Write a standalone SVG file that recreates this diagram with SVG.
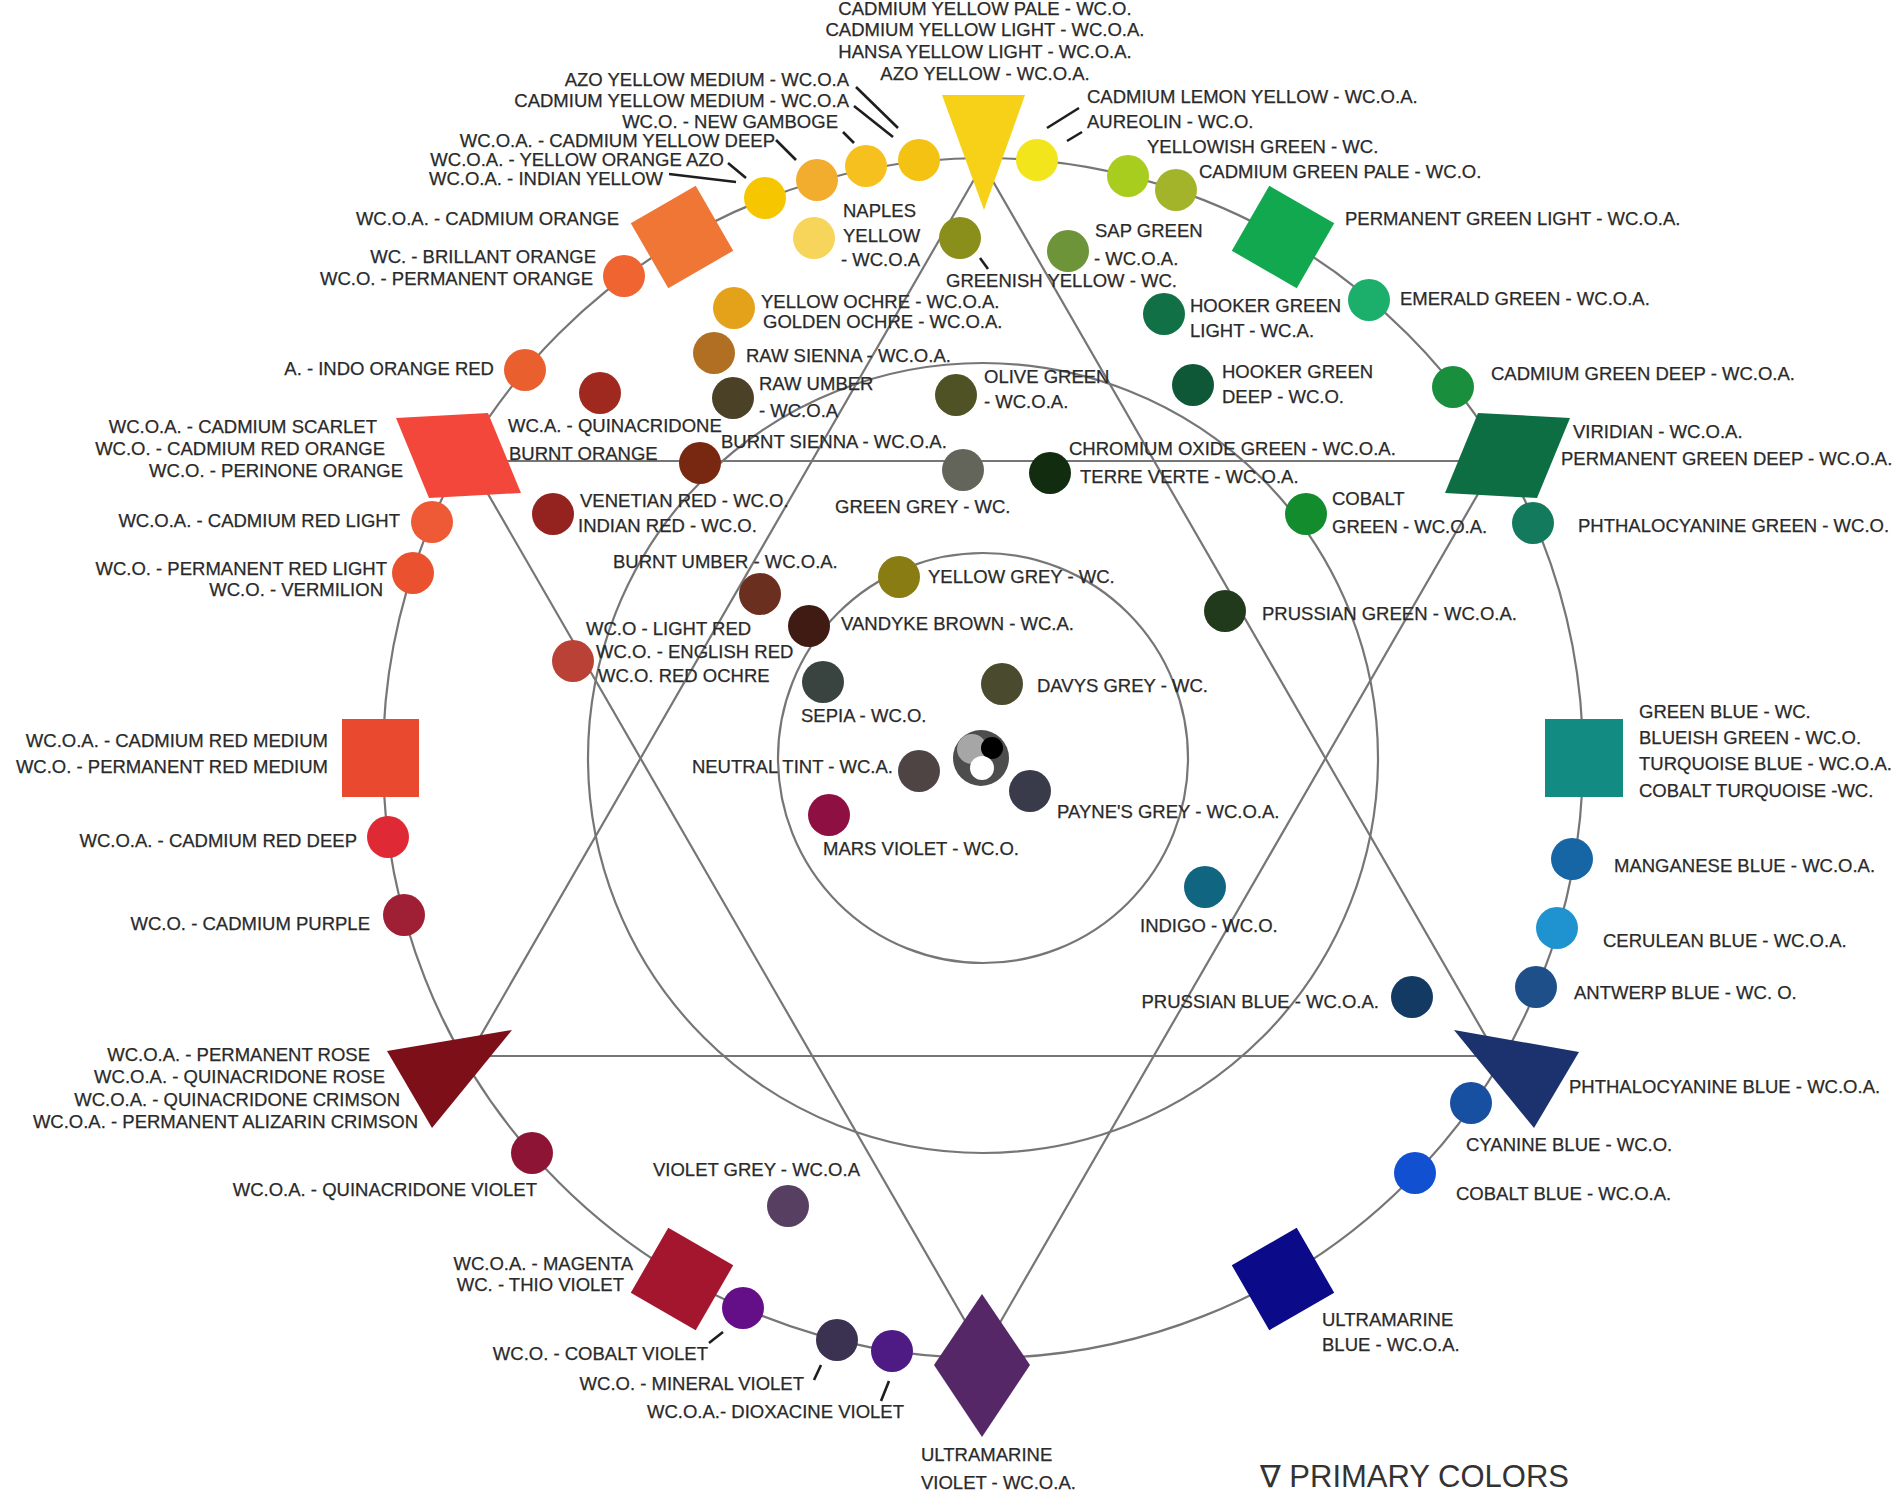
<svg xmlns="http://www.w3.org/2000/svg" width="1902" height="1493" viewBox="0 0 1902 1493">
<style>
text{font-family:"Liberation Sans",Arial,"DejaVu Sans",sans-serif;font-size:18.5px;fill:#2a2a2a;stroke:#2a2a2a;stroke-width:0.25}
.e{text-anchor:end}.m{text-anchor:middle}
.ring{fill:none;stroke:#767676;stroke-width:2.2}
.star{stroke:#767676;stroke-width:2.2;fill:none}
.ldr{stroke:#1e1e1e;stroke-width:2.6}
.big{font-size:31px;fill:#333;stroke:none}
</style>
<rect width="1902" height="1493" fill="#fff"/>
<g id="connectors">
<circle class="ring" cx="983" cy="758" r="600"/>
<circle class="ring" cx="983" cy="758" r="395"/>
<circle class="ring" cx="983" cy="758" r="205"/>
<path class="star" d="M983,164 L469,1056 L1497,1056 Z"/>
<path class="star" d="M469,461 L1497,461 L983,1352 Z"/>
<line class="ldr" x1="856" y1="87" x2="898" y2="128"/>
<line class="ldr" x1="854" y1="106" x2="893" y2="137"/>
<line class="ldr" x1="843" y1="132" x2="854" y2="143"/>
<line class="ldr" x1="776" y1="140" x2="796" y2="160"/>
<line class="ldr" x1="728" y1="163" x2="746" y2="178"/>
<line class="ldr" x1="669" y1="174" x2="736" y2="182"/>
<line class="ldr" x1="1047" y1="128" x2="1079" y2="108"/>
<line class="ldr" x1="1067" y1="141" x2="1082" y2="132"/>
<line class="ldr" x1="980" y1="258" x2="988" y2="269"/>
<line class="ldr" x1="709" y1="1343" x2="723" y2="1332"/>
<line class="ldr" x1="814" y1="1380" x2="821" y2="1365"/>
<line class="ldr" x1="881" y1="1401" x2="889" y2="1381"/>
</g>

<g id="top-yellows">
<text class="m" x="985" y="15">CADMIUM YELLOW PALE - WC.O.</text>
<text class="m" x="985" y="36">CADMIUM YELLOW LIGHT - WC.O.A.</text>
<text class="m" x="985" y="58">HANSA YELLOW LIGHT - WC.O.A.</text>
<text class="m" x="985" y="80">AZO YELLOW - WC.O.A.</text>
</g>
<g id="primary-yellow"><polygon points="942,95 1025,95 984,210" fill="#F7D117"/></g>
<g id="azo-yellow-medium"><circle cx="919" cy="160" r="21" fill="#F4C212"/>
<text class="e" x="849" y="86">AZO YELLOW MEDIUM - WC.O.A</text>
<text class="e" x="849" y="107">CADMIUM YELLOW MEDIUM - WC.O.A</text></g>
<g id="new-gamboge"><circle cx="866" cy="166" r="21" fill="#F6C11E"/>
<text class="e" x="838" y="128">WC.O. - NEW GAMBOGE</text></g>
<g id="cadmium-yellow-deep"><circle cx="817" cy="180" r="21" fill="#F2AD2F"/>
<text class="e" x="775" y="147">WC.O.A. - CADMIUM YELLOW DEEP</text></g>
<g id="indian-yellow"><circle cx="765" cy="198" r="21" fill="#F6C700"/>
<text class="e" x="724" y="166">WC.O.A. - YELLOW ORANGE AZO</text>
<text class="e" x="663" y="185">WC.O.A. - INDIAN YELLOW</text></g>
<g id="cadmium-orange"><rect x="-37.5" y="-37.5" width="75" height="75" fill="#F07636" transform="translate(682,237) rotate(-30)"/>
<text class="e" x="619" y="225">WC.O.A. - CADMIUM ORANGE</text></g>
<g id="brillant-orange"><circle cx="624" cy="276" r="21" fill="#EF6431"/>
<text class="e" x="596" y="263">WC. - BRILLANT ORANGE</text>
<text class="e" x="593" y="285">WC.O. - PERMANENT ORANGE</text></g>
<g id="indo-orange-red"><circle cx="525" cy="370" r="21" fill="#E9602E"/>
<text class="e" x="494" y="375">A. - INDO ORANGE RED</text></g>
<g id="cadmium-scarlet"><polygon points="396,418 488,413 521,493 429,498" fill="#F4473B"/>
<text class="e" x="377" y="433">WC.O.A. - CADMIUM SCARLET</text>
<text class="e" x="385" y="455">WC.O. - CADMIUM RED ORANGE</text>
<text class="e" x="403" y="477">WC.O. - PERINONE ORANGE</text></g>
<g id="cadmium-red-light"><circle cx="432" cy="522" r="21" fill="#EE5A36"/>
<text class="e" x="400" y="527">WC.O.A. - CADMIUM RED LIGHT</text></g>
<g id="permanent-red-light"><circle cx="413" cy="573" r="21" fill="#EA512E"/>
<text class="e" x="387" y="575">WC.O. - PERMANENT RED LIGHT</text>
<text class="e" x="383" y="596">WC.O. - VERMILION</text></g>
<g id="cadmium-red-medium"><rect x="342" y="719" width="77" height="78" fill="#E8492F"/>
<text class="e" x="328" y="747">WC.O.A. - CADMIUM RED MEDIUM</text>
<text class="e" x="328" y="773">WC.O. - PERMANENT RED MEDIUM</text></g>
<g id="cadmium-red-deep"><circle cx="388" cy="837" r="21" fill="#DF2A36"/>
<text class="e" x="357" y="847">WC.O.A. - CADMIUM RED DEEP</text></g>
<g id="cadmium-purple"><circle cx="404" cy="915" r="21" fill="#9F1F34"/>
<text class="e" x="370" y="930">WC.O. - CADMIUM PURPLE</text></g>
<g id="permanent-rose"><polygon points="387,1051 512,1030 432,1128" fill="#7D0F19"/>
<text class="e" x="370" y="1061">WC.O.A. - PERMANENT ROSE</text>
<text class="e" x="385" y="1083">WC.O.A. - QUINACRIDONE ROSE</text>
<text class="e" x="400" y="1106">WC.O.A. - QUINACRIDONE CRIMSON</text>
<text class="e" x="418" y="1128">WC.O.A. - PERMANENT ALIZARIN CRIMSON</text></g>
<g id="quinacridone-violet"><circle cx="532" cy="1153" r="21" fill="#8D1434"/>
<text class="e" x="537" y="1196">WC.O.A. - QUINACRIDONE VIOLET</text></g>
<g id="magenta"><rect x="-37.5" y="-37.5" width="75" height="75" fill="#A4162D" transform="translate(682,1279) rotate(30)"/>
<text class="e" x="633" y="1270">WC.O.A. - MAGENTA</text>
<text class="e" x="624" y="1291">WC. - THIO VIOLET</text></g>
<g id="cobalt-violet"><circle cx="743" cy="1308" r="21" fill="#640E88"/>
<text class="e" x="708" y="1360">WC.O. - COBALT VIOLET</text></g>
<g id="mineral-violet"><circle cx="837" cy="1340" r="21" fill="#3B3251"/>
<text class="e" x="804" y="1390">WC.O. - MINERAL VIOLET</text></g>
<g id="dioxacine-violet"><circle cx="892" cy="1351" r="21" fill="#4E1A84"/>
<text class="e" x="904" y="1418">WC.O.A.- DIOXACINE VIOLET</text></g>
<g id="ultramarine-violet"><polygon points="982,1294 1030,1365 982,1437 934,1365" fill="#552767"/>
<text x="921" y="1461">ULTRAMARINE</text>
<text x="921" y="1489">VIOLET - WC.O.A.</text></g>
<g id="violet-grey"><circle cx="788" cy="1206" r="21" fill="#563F60"/>
<text x="653" y="1176">VIOLET GREY - WC.O.A</text></g>
<g id="ultramarine-blue"><rect x="-37.5" y="-37.5" width="75" height="75" fill="#0B0B8A" transform="translate(1283,1279) rotate(-30)"/>
<text x="1322" y="1326">ULTRAMARINE</text>
<text x="1322" y="1351">BLUE - WC.O.A.</text></g>
<g id="cobalt-blue"><circle cx="1415" cy="1173" r="21" fill="#1250D2"/>
<text x="1456" y="1200">COBALT BLUE - WC.O.A.</text></g>
<g id="cyanine-blue"><circle cx="1471" cy="1103" r="21" fill="#1750A0"/>
<text x="1466" y="1151">CYANINE BLUE - WC.O.</text></g>
<g id="phthalocyanine-blue"><polygon points="1454,1030 1579,1052 1534,1128" fill="#1C326E"/>
<text x="1569" y="1093">PHTHALOCYANINE BLUE - WC.O.A.</text></g>
<g id="antwerp-blue"><circle cx="1536" cy="987" r="21" fill="#1E4F88"/>
<text x="1574" y="999">ANTWERP BLUE - WC. O.</text></g>
<g id="cerulean-blue"><circle cx="1557" cy="928" r="21" fill="#1F93D0"/>
<text x="1603" y="947">CERULEAN BLUE - WC.O.A.</text></g>
<g id="manganese-blue"><circle cx="1572" cy="859" r="21" fill="#1666A6"/>
<text x="1614" y="872">MANGANESE BLUE - WC.O.A.</text></g>
<g id="green-blue"><rect x="1545" y="719" width="78" height="78" fill="#128C82"/>
<text x="1639" y="718">GREEN BLUE - WC.</text>
<text x="1639" y="744">BLUEISH GREEN - WC.O.</text>
<text x="1639" y="770">TURQUOISE BLUE - WC.O.A.</text>
<text x="1639" y="797">COBALT TURQUOISE -WC.</text></g>
<g id="phthalocyanine-green"><circle cx="1533" cy="523" r="21" fill="#137A5E"/>
<text x="1578" y="532">PHTHALOCYANINE GREEN - WC.O.</text></g>
<g id="viridian"><polygon points="1478,413 1570,418 1537,498 1445,493" fill="#0E6E43"/>
<text x="1573" y="438">VIRIDIAN - WC.O.A.</text>
<text x="1561" y="465">PERMANENT GREEN DEEP - WC.O.A.</text></g>
<g id="cadmium-green-deep"><circle cx="1453" cy="387" r="21" fill="#198F3D"/>
<text x="1491" y="380">CADMIUM GREEN DEEP - WC.O.A.</text></g>
<g id="emerald-green"><circle cx="1369" cy="300" r="21" fill="#1BAF6B"/>
<text x="1400" y="305">EMERALD GREEN - WC.O.A.</text></g>
<g id="permanent-green-light"><rect x="-37.5" y="-37.5" width="75" height="75" fill="#11A84F" transform="translate(1283,237) rotate(30)"/>
<text x="1345" y="225">PERMANENT GREEN LIGHT - WC.O.A.</text></g>
<g id="cadmium-green-pale"><circle cx="1176" cy="190" r="21" fill="#A3B42B"/>
<text x="1199" y="178">CADMIUM GREEN PALE - WC.O.</text></g>
<g id="yellowish-green"><circle cx="1128" cy="176" r="21" fill="#A9CD1E"/>
<text x="1147" y="153">YELLOWISH GREEN - WC.</text></g>
<g id="cadmium-lemon-yellow"><circle cx="1037" cy="160" r="21" fill="#F3E51B"/>
<text x="1087" y="103">CADMIUM LEMON YELLOW - WC.O.A.</text>
<text x="1087" y="128">AUREOLIN - WC.O.</text></g>

<g id="naples-yellow"><circle cx="814" cy="238" r="21" fill="#F7D45A"/>
<text x="843" y="217">NAPLES</text><text x="843" y="242">YELLOW</text><text x="841" y="266">- WC.O.A</text></g>
<g id="greenish-yellow"><circle cx="960" cy="238" r="21" fill="#8A8E1A"/>
<text x="946" y="287">GREENISH YELLOW - WC.</text></g>
<g id="sap-green"><circle cx="1068" cy="251" r="21" fill="#6E943A"/>
<text x="1095" y="237">SAP GREEN</text><text x="1094" y="265">- WC.O.A.</text></g>
<g id="hooker-green-light"><circle cx="1164" cy="314" r="21" fill="#117046"/>
<text x="1190" y="312">HOOKER GREEN</text><text x="1190" y="337">LIGHT - WC.A.</text></g>
<g id="hooker-green-deep"><circle cx="1193" cy="385" r="21" fill="#0E5838"/>
<text x="1222" y="378">HOOKER GREEN</text><text x="1222" y="403">DEEP - WC.O.</text></g>
<g id="yellow-ochre"><circle cx="734" cy="308" r="21" fill="#E4A21B"/>
<text x="761" y="308">YELLOW OCHRE - WC.O.A.</text><text x="763" y="328">GOLDEN OCHRE - WC.O.A.</text></g>
<g id="raw-sienna"><circle cx="714" cy="353" r="21" fill="#B06F22"/>
<text x="746" y="362">RAW SIENNA - WC.O.A.</text></g>
<g id="raw-umber"><circle cx="733" cy="398" r="21" fill="#4A4127"/>
<text x="759" y="390">RAW UMBER</text><text x="759" y="417">- WC.O.A</text></g>
<g id="olive-green"><circle cx="956" cy="395" r="21" fill="#4E5224"/>
<text x="984" y="383">OLIVE GREEN</text><text x="984" y="408">- WC.O.A.</text></g>
<g id="quinacridone-burnt-orange"><circle cx="600" cy="393" r="21" fill="#A0291F"/>
<text x="508" y="432">WC.A. - QUINACRIDONE</text><text x="509" y="460">BURNT ORANGE</text></g>
<g id="burnt-sienna"><circle cx="700" cy="463" r="21" fill="#782810"/>
<text x="721" y="448">BURNT SIENNA - WC.O.A.</text></g>
<g id="green-grey"><circle cx="963" cy="470" r="21" fill="#63645A"/>
<text x="835" y="513">GREEN GREY - WC.</text></g>
<g id="terre-verte"><circle cx="1050" cy="473" r="21" fill="#112C0E"/>
<text x="1069" y="455">CHROMIUM OXIDE GREEN - WC.O.A.</text><text x="1080" y="483">TERRE VERTE - WC.O.A.</text></g>
<g id="cobalt-green"><circle cx="1306" cy="514" r="21" fill="#138C2E"/>
<text x="1332" y="505">COBALT</text><text x="1332" y="533">GREEN - WC.O.A.</text></g>
<g id="venetian-red"><circle cx="553" cy="514" r="21" fill="#942320"/>
<text x="580" y="507">VENETIAN RED - WC.O.</text><text x="578" y="532">INDIAN RED - WC.O.</text></g>
<g id="burnt-umber"><circle cx="760" cy="594" r="21" fill="#6B2F1F"/>
<text x="613" y="568">BURNT UMBER - WC.O.A.</text></g>
<g id="yellow-grey"><circle cx="899" cy="577" r="21" fill="#887C12"/>
<text x="928" y="583">YELLOW GREY - WC.</text></g>
<g id="vandyke-brown"><circle cx="809" cy="626" r="21" fill="#3F1B13"/>
<text x="841" y="630">VANDYKE BROWN - WC.A.</text></g>
<g id="light-red"><circle cx="573" cy="661" r="21" fill="#BA4135"/>
<text x="586" y="635">WC.O - LIGHT RED</text><text x="596" y="658">WC.O. - ENGLISH RED</text><text x="598" y="682">WC.O. RED OCHRE</text></g>
<g id="prussian-green"><circle cx="1225" cy="611" r="21" fill="#213A1B"/>
<text x="1262" y="620">PRUSSIAN GREEN - WC.O.A.</text></g>
<g id="sepia"><circle cx="823" cy="682" r="21" fill="#394440"/>
<text x="801" y="722">SEPIA - WC.O.</text></g>
<g id="davys-grey"><circle cx="1002" cy="684" r="21" fill="#4A4A2E"/>
<text x="1037" y="692">DAVYS GREY - WC.</text></g>
<g id="neutral-mix"><circle cx="981" cy="758" r="28" fill="#4d4d4d"/>
<circle cx="972" cy="749" r="15" fill="#a6a6a6"/>
<circle cx="992" cy="748" r="11" fill="#000"/>
<circle cx="982" cy="768" r="12" fill="#fff"/></g>
<g id="neutral-tint"><circle cx="919" cy="771" r="21" fill="#4E4444"/>
<text class="e" x="893" y="773">NEUTRAL TINT - WC.A.</text></g>
<g id="paynes-grey"><circle cx="1030" cy="791" r="21" fill="#3A3B4A"/>
<text x="1057" y="818">PAYNE'S GREY - WC.O.A.</text></g>
<g id="mars-violet"><circle cx="829" cy="815" r="21" fill="#8E1042"/>
<text x="823" y="855">MARS VIOLET - WC.O.</text></g>
<g id="indigo"><circle cx="1205" cy="887" r="21" fill="#106680"/>
<text x="1140" y="932">INDIGO - WC.O.</text></g>
<g id="prussian-blue"><circle cx="1412" cy="997" r="21" fill="#123A62"/>
<text class="e" x="1379" y="1008">PRUSSIAN BLUE - WC.O.A.</text></g>
<g id="legend"><text class="big" x="1260" y="1487">∇ PRIMARY COLORS</text></g>
</svg>
